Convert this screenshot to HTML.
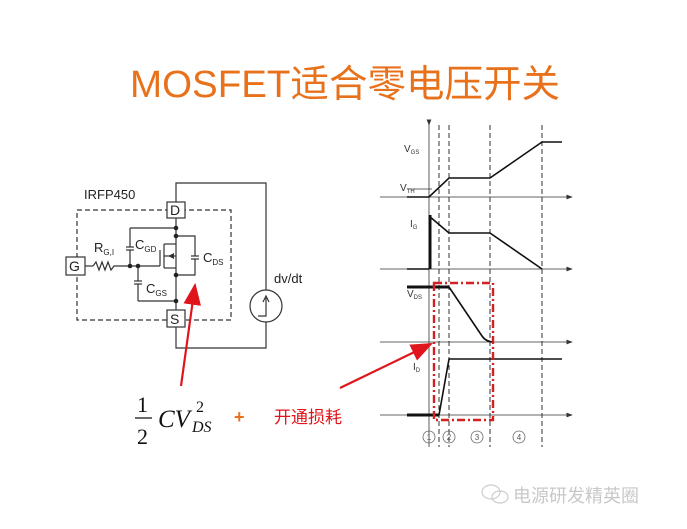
<!DOCTYPE html>
<html><head><meta charset="utf-8"><style>
html,body{margin:0;padding:0;background:#fff}
svg{display:block}
</style></head><body>
<svg width="687" height="529" viewBox="0 0 687 529" xmlns="http://www.w3.org/2000/svg" font-family="Liberation Sans, sans-serif">
<defs>
<marker id="ar" markerWidth="8" markerHeight="6" refX="7" refY="3" orient="auto"><path d="M0,0 L8,3 L0,6 z" fill="#333"/></marker>
<marker id="rr" markerWidth="10" markerHeight="8" refX="9" refY="4" orient="auto"><path d="M0,0 L10,4 L0,8 z" fill="#e0151b"/></marker>
</defs>
<text x="130" y="97" font-size="38" fill="#e8711c" textLength="430" lengthAdjust="spacingAndGlyphs" font-family="Liberation Sans, Noto Sans CJK SC, sans-serif">MOSFET适合零电压开关</text>

<!-- circuit -->
<g stroke="#333" stroke-width="1.2" fill="none">
<rect x="77" y="210" width="154" height="110" stroke-dasharray="5,3"/>
<polyline points="176,202 176,183 266,183 266,290"/>
<polyline points="266,322 266,348 176,348 176,327"/>
<circle cx="266" cy="306" r="16"/>
<polyline points="258,316 266,316 266,298"/>
<path d="M263,302 L266,296 L269,302"/>
<line x1="85" y1="266" x2="93" y2="266"/>
<polyline points="93,266 96,262 99,270 102,262 105,270 108,262 111,270 114,266 130,266"/>
<line x1="130" y1="266" x2="160" y2="266"/>
<line x1="130" y1="228" x2="176" y2="228"/>
<line x1="126" y1="247" x2="134" y2="247"/><line x1="126" y1="250" x2="134" y2="250"/>
<line x1="130" y1="228" x2="130" y2="247"/><line x1="130" y1="250" x2="130" y2="266"/>
<line x1="138" y1="266" x2="138" y2="281"/>
<line x1="134" y1="281" x2="142" y2="281"/><line x1="134" y1="284" x2="142" y2="284"/>
<line x1="138" y1="284" x2="138" y2="301"/>
<line x1="138" y1="301" x2="176" y2="301"/>
<line x1="160" y1="250" x2="160" y2="266"/>
<line x1="164" y1="244" x2="164" y2="268"/>
<line x1="164" y1="244" x2="176" y2="244"/>
<line x1="164" y1="256" x2="176" y2="256"/>
<line x1="164" y1="268" x2="176" y2="268"/>
<line x1="176" y1="218" x2="176" y2="310"/>
<polyline points="176,236 195,236 195,256"/>
<line x1="191" y1="256" x2="199" y2="256"/><line x1="191" y1="259" x2="199" y2="259"/>
<polyline points="195,259 195,275 176,275"/>
</g>
<path d="M168,256 L174,253 L174,259z" fill="#333"/>
<g fill="#222"><circle cx="130" cy="266" r="2.3"/><circle cx="138" cy="266" r="2.3"/><circle cx="176" cy="228" r="2.3"/><circle cx="176" cy="236" r="2.3"/><circle cx="176" cy="275" r="2.3"/><circle cx="176" cy="301" r="2.3"/></g>
<g fill="#fff" stroke="#333" stroke-width="1.2">
<rect x="167" y="202" width="18" height="16"/><rect x="167" y="310" width="18" height="17"/><rect x="66" y="257" width="19" height="18"/>
</g>
<g fill="#222" font-size="14">
<text x="170" y="215">D</text><text x="170" y="324">S</text><text x="69" y="271">G</text>
<text x="84" y="199" font-size="13">IRFP450</text>
<text x="94" y="252" font-size="13">R<tspan font-size="8" dy="3">G,I</tspan></text>
<text x="135" y="249" font-size="13">C<tspan font-size="8" dy="3">GD</tspan></text>
<text x="146" y="293" font-size="13">C<tspan font-size="8" dy="3">GS</tspan></text>
<text x="203" y="262" font-size="13">C<tspan font-size="8" dy="3">DS</tspan></text>
<text x="274" y="283" font-size="13">dv/dt</text>
</g>

<!-- waveforms -->
<g stroke="#333" stroke-width="0.8" fill="none">
<line x1="429" y1="125" x2="429" y2="447" marker-start="url(#ar)"/>
<line x1="380" y1="197" x2="572" y2="197" marker-end="url(#ar)"/>
<line x1="380" y1="269" x2="572" y2="269" marker-end="url(#ar)"/>
<line x1="380" y1="342" x2="572" y2="342" marker-end="url(#ar)"/>
<line x1="380" y1="415" x2="572" y2="415" marker-end="url(#ar)"/>
<line x1="407" y1="189" x2="432" y2="189"/>
</g>
<g stroke="#333" stroke-width="1" stroke-dasharray="5,3">
<line x1="439" y1="125" x2="439" y2="447"/><line x1="449" y1="125" x2="449" y2="447"/>
<line x1="490" y1="125" x2="490" y2="447"/><line x1="542" y1="125" x2="542" y2="447"/>
</g>
<g stroke="#111" stroke-width="1.6" fill="none">
<polyline points="407,197 429,197 449,178 490,178 542,142 562,142"/>
<polyline points="407,269 429,269"/>
<polyline points="429,216 449,233 490,233 542,269"/>
<line x1="430" y1="215" x2="430" y2="269" stroke-width="3"/>
<polyline points="407,287 449,287" stroke-width="3"/>
<path d="M449,287 L482,336 Q486,342 494,342"/>
<polyline points="407,415 439,415" stroke-width="3"/>
<polyline points="439,415 449,359 562,359"/>
</g>
<g fill="#333" font-size="10">
<text x="404" y="152">V<tspan font-size="6" dy="2">GS</tspan></text>
<text x="400" y="191">V<tspan font-size="6" dy="2">TH</tspan></text>
<text x="410" y="227">I<tspan font-size="6" dy="2">G</tspan></text>
<text x="407" y="297">V<tspan font-size="6" dy="2">DS</tspan></text>
<text x="413" y="370">I<tspan font-size="6" dy="2">D</tspan></text>
</g>
<rect x="434" y="283" width="59" height="137" fill="none" stroke="#d42020" stroke-width="2.4" stroke-dasharray="8,3,2,3"/>
<g fill="none" stroke="#666" stroke-width="0.8">
<circle cx="429" cy="437" r="6"/><circle cx="449" cy="437" r="6"/><circle cx="477" cy="437" r="6"/><circle cx="519" cy="437" r="6"/>
</g>
<g fill="#555" font-size="8" text-anchor="middle">
<text x="429" y="440">1</text><text x="449" y="440">2</text><text x="477" y="440">3</text><text x="519" y="440">4</text>
</g>

<!-- red arrows -->
<line x1="181" y1="386" x2="195" y2="285" stroke="#e0151b" stroke-width="2.2" marker-end="url(#rr)"/>
<line x1="340" y1="388" x2="431" y2="344" stroke="#e0151b" stroke-width="2.2" marker-end="url(#rr)"/>

<!-- formula -->
<g font-family="Liberation Serif, serif" fill="#111">
<text x="137" y="412" font-size="22">1</text>
<line x1="135" y1="418" x2="152" y2="418" stroke="#111" stroke-width="1.2"/>
<text x="137" y="444" font-size="22">2</text>
<text x="158" y="427" font-size="25" font-style="italic">CV</text>
<text x="196" y="412" font-size="16">2</text>
<text x="192" y="432" font-size="16" font-style="italic">DS</text>
</g>
<text x="234" y="423" font-size="18" fill="#e8711c" font-weight="bold">+</text>
<text x="274" y="423" font-size="17" fill="#e0151b" font-family="Liberation Sans, Noto Sans CJK SC, sans-serif">开通损耗</text>

<!-- watermark -->
<g fill="none" stroke="#ccc" stroke-width="1.2"><ellipse cx="491" cy="492" rx="9" ry="7"/><ellipse cx="500" cy="497" rx="8" ry="6"/></g>
<text x="513" y="502" font-size="18" fill="#c8c8c8" font-family="Noto Sans CJK SC, sans-serif">电源研发精英圈</text>
</svg>
</body></html>
